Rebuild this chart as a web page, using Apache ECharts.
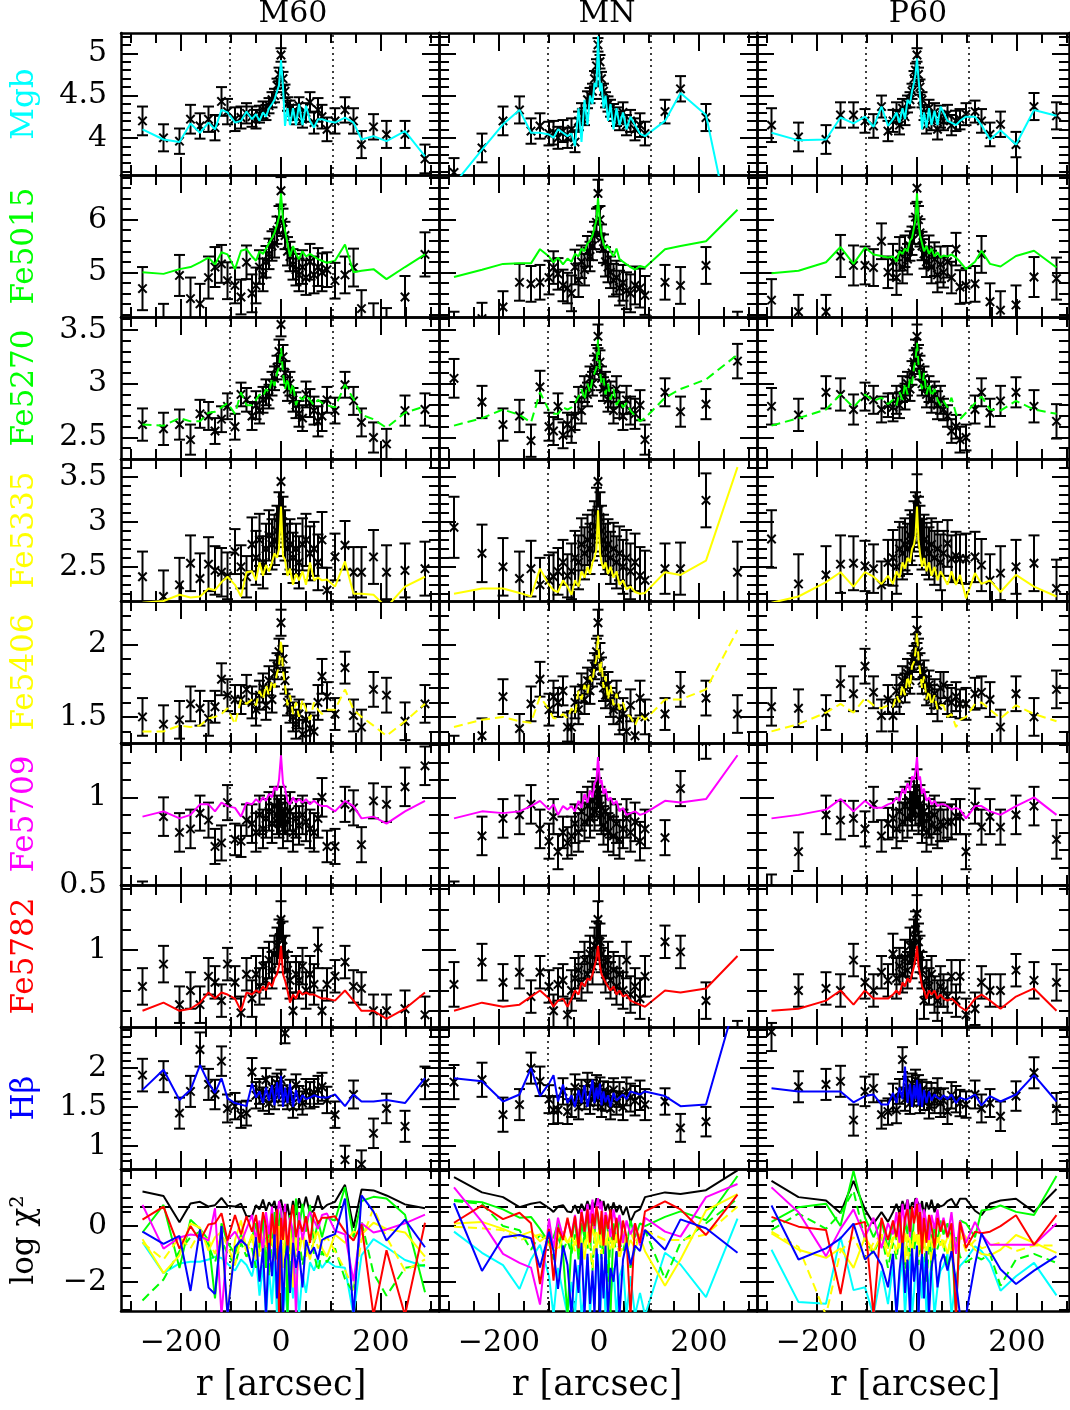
<!DOCTYPE html>
<html><head><meta charset="utf-8">
<script src="https://cdn.jsdelivr.net/npm/echarts@6/dist/echarts.min.js"></script>
<style>html,body{margin:0;padding:0;background:#fff;overflow:hidden}#c{width:1070px;height:1410px}</style>
</head><body><div id="c"></div><script>
// ---------------- DATA ----------------
const colNames = ['M60', 'MN', 'P60'];
const rowLabels = ['Mgb', 'Fe5015', 'Fe5270', 'Fe5335', 'Fe5406', 'Fe5709', 'Fe5782', 'H\u03b2', 'log \u03c7\u00b2'];
const xMajor = [-200, 0, 200];
const xMinor = [-300, -250, -150, -100, -50, 50, 100, 150, 250, 300];
const reLines = [-103, 103];
const chiRef = [0.7];

const mgbTicks = [4, 4.5, 5];
const mgbMinor = [3.6, 3.7, 3.8, 3.9, 4.1, 4.2, 4.3, 4.4, 4.6, 4.7, 4.8, 4.9, 5.1, 5.2];
const fe5015Ticks = [5, 6];
const fe5015Minor = [4.2, 4.4, 4.6, 4.8, 5.2, 5.4, 5.6, 5.8, 6.2, 6.4, 6.6, 6.8];
const fe5270Ticks = [2.5, 3, 3.5];
const fe5270Minor = [2.3, 2.4, 2.6, 2.7, 2.8, 2.9, 3.1, 3.2, 3.3, 3.4, 3.6];
const fe5335Ticks = [2.5, 3, 3.5];
const fe5335Minor = [2.2, 2.3, 2.4, 2.6, 2.7, 2.8, 2.9, 3.1, 3.2, 3.3, 3.4, 3.6, 3.7];
const fe5406Ticks = [1.5, 2];
const fe5406Minor = [1.4, 1.6, 1.7, 1.8, 1.9, 2.1, 2.2, 2.3];
const fe5709Ticks = [0.5, 1];
const fe5709Minor = [0.6, 0.7, 0.8, 0.9, 1.1, 1.2, 1.3];
const fe5782Ticks = [1];
const fe5782Minor = [0.7, 0.8, 0.9, 1.1, 1.2, 1.3];
const hbTicks = [1, 1.5, 2];
const hbMinor = [0.8, 0.9, 1.1, 1.2, 1.3, 1.4, 1.6, 1.7, 1.8, 1.9, 2.1, 2.2, 2.3, 2.4, 2.5];
const chiTicks = [-2, 0];
const chiMinor = [-3, -2.5, -1.5, -1, -0.5, 0.5, 1, 1.5, 2];

// radii [arcsec]
const rM60 = [-277,-235,-203,-181,-162,-145,-132,-119,-107,-92,-80,-69, -58,-50,-43,-36,-30,-24,-18,-13,-8,-4,0,4,8,13,18,24,30,36,43,50,58,66,74,82, 92,108,128,145,161,185,211,248,288];
const rMN = [-290,-234,-192,-159,-136,-118,-100,-91,-82,-72,-63, -55,-48,-41,-35,-29,-23,-18,-13,-9,-5,-2,2,5,9,13,18,23,29,35,41,48,55,63,72,82,92, 132,163,214,277];
const rP60 = [-291,-237,-182,-153,-127,-104,-87,-71,-58, -48,-41,-35,-29,-24,-19,-14,-10,-6,-3,0,3,6,10,14,19,24,29,35,41,47, 53,61,69,78,86,98,116,129,146,167,198,234,279];

// ---- M60 ----
const mgbM60 = [4.20,4.00,3.96,4.22,4.14,4.22,4.12,4.43,4.31,4.22,4.24,4.29, 4.25,4.22,4.28,4.33,4.30,4.38,4.45,4.50,4.62,4.75,4.98,4.70,4.55,4.40,4.35,4.30,4.25,4.38,4.22,4.30,4.42,4.18,4.33,4.25, 4.10,4.20,4.33,4.20,3.92,4.13,4.04,4.04,3.75];
const mgbM60Err = [0.17,0.16,0.15,0.17,0.15,0.15,0.15,0.17,0.15,0.14,0.13,0.12, 0.12,0.11,0.10,0.10,0.09,0.09,0.09,0.08,0.08,0.08,0.08,0.08,0.08,0.08,0.09,0.09,0.09,0.10,0.10,0.11,0.12,0.13,0.14,0.14, 0.14,0.15,0.15,0.15,0.16,0.15,0.16,0.16,0.17];
const mgbM60Mod = [4.10,3.98,3.95,4.17,4.06,4.18,4.10,4.33,4.30,4.18,4.20,4.31, 4.22,4.28,4.20,4.30,4.25,4.35,4.40,4.45,4.55,4.62,4.92,4.60,4.14,4.35,4.15,4.35,4.15,4.40,4.15,4.38,4.20,4.12,4.22,4.22, 4.20,4.18,4.24,4.18,3.98,4.02,3.96,4.08,3.78];

const fe5015M60 = [4.69,4.05,4.94,4.50,4.40,4.90,5.10,5.16,4.84,4.75,4.53,5.19, 4.60,4.75,5.10,4.95,5.20,5.35,5.50,5.55,5.80,6.00,6.55,5.95,5.70,5.40,5.30,5.15,5.05,4.95,5.10,4.90,5.20,4.95,5.10,5.00, 5.05,4.84,4.95,5.09,4.31,4.05,3.95,4.53,5.34];
const fe5015M60Err = [0.41,0.35,0.39,0.40,0.38,0.40,0.38,0.36,0.35,0.34,0.33,0.32, 0.36,0.34,0.32,0.31,0.30,0.29,0.28,0.27,0.26,0.26,0.26,0.26,0.26,0.27,0.28,0.29,0.30,0.31,0.32,0.33,0.34,0.35,0.36,0.36, 0.33,0.34,0.35,0.36,0.35,0.36,0.37,0.40,0.42];
const fe5015M60Mod = [5.00,4.97,5.06,5.10,5.19,5.28,5.15,5.38,5.34,5.06,5.41,5.44, 5.30,5.22,5.40,5.35,5.45,5.55,5.65,5.75,5.90,6.05,6.50,6.00,5.80,5.55,5.30,5.50,5.35,5.25,5.40,5.30,5.35,5.30,5.25,5.22, 5.18,5.22,5.53,5.00,5.03,5.06,4.87,5.10,5.34];

const fe5270M60 = [2.62,2.58,2.62,2.48,2.72,2.70,2.56,2.67,2.79,2.60,2.90,2.85, 2.70,2.80,2.75,2.85,2.92,2.88,3.00,3.05,3.15,3.30,3.55,3.25,3.10,2.95,3.00,2.85,2.80,2.72,2.68,2.90,2.82,2.75,2.65,2.70, 2.85,2.75,2.99,2.84,2.64,2.50,2.44,2.75,2.76];
const fe5270M60Err = [0.15,0.15,0.14,0.14,0.13,0.13,0.12,0.12,0.12,0.12,0.11,0.11, 0.13,0.13,0.12,0.12,0.12,0.11,0.11,0.11,0.11,0.11,0.11,0.11,0.11,0.11,0.11,0.11,0.12,0.12,0.12,0.12,0.13,0.13,0.14,0.14, 0.12,0.12,0.12,0.13,0.13,0.14,0.14,0.14,0.15];
const fe5270M60Mod = [2.62,2.61,2.68,2.65,2.65,2.73,2.74,2.78,2.82,2.72,2.92,2.80, 2.80,2.85,2.90,2.88,2.95,2.92,3.05,2.98,3.10,3.15,3.33,3.10,2.95,3.05,2.90,3.00,2.80,2.88,2.85,2.90,2.85,2.80,2.85,2.82, 2.80,2.78,2.99,2.86,2.71,2.67,2.59,2.73,2.79];

const fe5335M60 = [2.39,2.17,2.30,2.54,2.37,2.53,2.46,2.44,2.40,2.67,2.50,2.39, 2.75,2.60,2.80,2.55,2.70,2.85,2.75,2.80,2.90,3.05,3.45,3.00,2.85,2.70,2.75,2.60,2.70,2.55,2.75,2.80,2.65,2.70,2.55,2.80, 2.24,2.61,2.74,2.44,2.44,2.61,2.44,2.46,2.48];
const fe5335M60Err = [0.28,0.29,0.30,0.31,0.28,0.30,0.27,0.27,0.26,0.25,0.24,0.23, 0.30,0.30,0.29,0.29,0.28,0.28,0.28,0.28,0.28,0.28,0.28,0.28,0.28,0.28,0.28,0.28,0.28,0.29,0.29,0.29,0.30,0.30,0.31,0.31, 0.25,0.26,0.27,0.28,0.28,0.30,0.30,0.30,0.30];
const fe5335M60Mod = [2.10,2.12,2.19,2.16,2.17,2.26,2.24,2.33,2.39,2.30,2.17,2.44, 2.45,2.35,2.55,2.40,2.52,2.45,2.55,2.65,2.60,2.70,3.17,2.62,2.58,2.40,2.48,2.30,2.42,2.35,2.45,2.30,2.55,2.35,2.38,2.35, 2.36,2.28,2.56,2.20,2.20,2.19,2.05,2.28,2.39];

const fe5406M60 = [1.50,1.45,1.48,1.59,1.56,1.49,1.57,1.76,1.65,1.62,1.62,1.69, 1.60,1.55,1.65,1.70,1.58,1.75,1.62,1.80,1.85,1.95,2.15,1.90,1.75,1.60,1.55,1.50,1.45,1.52,1.38,1.48,1.42,1.40,1.60,1.78, 1.64,1.52,1.84,1.51,1.43,1.69,1.65,1.47,1.59];
const fe5406M60Err = [0.13,0.13,0.13,0.12,0.12,0.12,0.11,0.11,0.11,0.10,0.10,0.10, 0.11,0.11,0.10,0.10,0.10,0.10,0.09,0.09,0.09,0.09,0.09,0.09,0.09,0.09,0.09,0.10,0.10,0.10,0.10,0.11,0.11,0.11,0.12,0.12, 0.10,0.11,0.11,0.11,0.12,0.12,0.12,0.13,0.13];
const fe5406M60Mod = [1.40,1.40,1.44,1.43,1.44,1.49,1.50,1.52,1.56,1.45,1.62,1.59, 1.62,1.58,1.68,1.62,1.72,1.65,1.75,1.70,1.80,1.85,2.03,1.82,1.72,1.58,1.65,1.52,1.60,1.50,1.62,1.55,1.48,1.60,1.55,1.52, 1.55,1.55,1.69,1.55,1.50,1.44,1.37,1.47,1.59];

const fe5709M60 = [0.43,0.89,0.80,0.82,0.91,0.87,0.72,0.74,0.97,0.76,0.75,0.87, 0.85,0.80,0.90,0.82,0.88,0.92,0.85,0.95,0.90,0.88,0.95,0.82,0.90,0.86,0.92,0.80,0.88,0.84,0.90,0.86,0.82,0.80,0.88,1.00, 0.72,0.72,0.96,0.94,0.73,0.98,0.96,1.06,1.18];
const fe5709M60Err = [0.09,0.11,0.11,0.11,0.10,0.10,0.10,0.10,0.10,0.09,0.09,0.09, 0.11,0.11,0.11,0.11,0.11,0.11,0.11,0.11,0.11,0.11,0.11,0.11,0.11,0.11,0.11,0.11,0.11,0.11,0.11,0.11,0.11,0.11,0.11,0.11, 0.09,0.10,0.10,0.10,0.10,0.10,0.10,0.11,0.11];
const fe5709M60Mod = [0.89,0.92,0.88,0.90,0.96,0.96,0.92,0.97,0.95,0.94,0.89,0.97, 0.96,0.99,0.97,1.00,0.98,1.02,1.00,1.06,1.04,1.10,1.24,1.08,1.05,0.98,0.96,1.00,0.97,0.99,0.97,0.99,0.96,0.98,0.96,0.95, 0.95,0.92,0.98,0.95,0.88,0.89,0.85,0.92,0.98];

const fe5782M60 = [0.82,0.93,0.73,0.80,0.73,0.87,0.84,0.75,0.93,0.84,0.69,0.88, 0.76,0.88,0.82,0.92,0.85,0.95,0.90,0.98,1.02,1.06,1.15,1.05,0.98,0.90,0.85,0.70,0.88,0.85,0.92,0.80,0.88,0.83,1.01,0.70, 0.83,0.87,0.94,0.82,0.81,0.70,0.70,0.71,0.68];
const fe5782M60Err = [0.09,0.09,0.09,0.09,0.09,0.09,0.08,0.08,0.08,0.08,0.08,0.08, 0.09,0.09,0.09,0.09,0.09,0.09,0.09,0.09,0.09,0.09,0.09,0.09,0.09,0.09,0.09,0.09,0.09,0.09,0.09,0.09,0.09,0.10,0.10,0.10, 0.08,0.08,0.08,0.08,0.08,0.08,0.08,0.09,0.09];
const fe5782M60Mod = [0.70,0.74,0.70,0.71,0.74,0.79,0.76,0.79,0.78,0.76,0.70,0.79, 0.78,0.80,0.79,0.82,0.80,0.84,0.82,0.86,0.88,0.92,1.02,0.88,0.85,0.80,0.74,0.78,0.76,0.80,0.78,0.79,0.78,0.78,0.77,0.76, 0.76,0.75,0.80,0.75,0.70,0.70,0.66,0.71,0.79];

const hbM60 = [1.91,1.89,1.42,1.70,2.24,1.79,1.66,2.09,1.48,1.51,1.40,1.42, 1.95,1.65,1.70,1.60,1.85,1.55,1.75,1.60,1.80,1.70,1.85,1.65,2.45,1.60,1.72,1.50,1.78,1.62,1.55,1.70,1.65,1.68,1.72,1.76, 1.59,1.40,0.82,1.66,0.76,1.16,1.48,1.25,1.81];
const hbM60Err = [0.21,0.20,0.20,0.20,0.22,0.20,0.19,0.19,0.18,0.17,0.17,0.16, 0.18,0.17,0.16,0.15,0.15,0.14,0.14,0.13,0.13,0.13,0.13,0.13,0.13,0.13,0.13,0.14,0.14,0.15,0.15,0.16,0.17,0.18,0.18,0.18, 0.17,0.17,0.18,0.18,0.18,0.19,0.19,0.20,0.21];
const hbM60Mod = [1.72,1.98,1.59,1.72,2.04,1.81,1.68,1.87,1.61,1.55,1.53,1.51, 1.80,1.62,1.70,1.55,1.75,1.58,1.78,1.52,1.82,1.60,1.90,1.50,1.75,1.55,1.80,1.50,1.72,1.55,1.65,1.60,1.62,1.65,1.63,1.62, 1.62,1.66,1.51,1.66,1.57,1.57,1.59,1.55,1.87];

const chiTotM60 = [1.24,1.08,0.14,0.81,0.87,0.70,0.75,1.01,0.73,0.70,0.81,0.35, 0.35,0.75,0.60,0.95,0.55,0.85,0.70,0.90,0.40,0.80,0.95,0.60,0.30,0.80,0.20,0.90,0.40,1.00,0.55,1.05,0.45,0.58,1.10,0.60, 0.76,0.87,1.48,-0.06,1.31,1.28,1.10,0.78,0.64];
const chiMgbM60 = [-0.58,-1.69,-1.34,-1.28,-1.28,-1.20,-1.10,-1.15,-1.35,-1.60,-1.20,-1.40, -1.80,-1.10,-2.50,-1.40,-3.20,-1.60,-2.80,-1.20,-3.20,-2.00,-1.50,-3.20,-2.20,-3.20,-1.30,-2.60,-1.50,-3.20,-1.70,-2.40,-1.30,-1.60,-1.20,-1.50, -1.25,-1.45,-1.50,-3.20,-1.05,-0.47,-0.76,-1.22,-1.45];
const chiFe5015M60 = [-0.23,0.76,-1.51,0.23,-0.10,-0.50,-2.60,0.10,-0.60,-1.00,-0.30,-0.80, -0.40,0.10,-0.90,0.30,-1.50,0.00,-0.70,0.50,-1.20,0.20,0.60,-0.50,0.30,-3.20,0.40,-0.80,0.99,-0.10,0.80,-0.20,0.76,-0.60,0.20,-0.40, 0.30,0.20,1.40,-0.40,0.90,1.05,0.99,0.41,-2.38];
const chiFe5270M60 = [-2.67,-1.92,-0.90,-0.40,-0.20,-0.70,-1.30,-0.50,-1.00,-1.40,-0.60,-1.10, -0.80,-1.50,-0.40,-1.00,-0.20,-1.80,-0.50,-0.90,-0.30,-1.20,-0.60,-0.20,-1.00,-0.50,-1.60,-0.70,-1.10,-0.40,-1.40,-0.80,-0.30,-1.00,-1.60,-0.90, -1.30,-0.80,-1.90,-2.40,0.17,-1.70,-2.50,-1.50,-1.40];
const chiFe5335M60 = [-0.47,-1.69,-1.05,0.10,-0.06,-0.88,-0.40,-0.20,-3.20,-0.50,0.20,-0.90, -0.30,-1.20,0.00,-0.60,-0.20,-1.00,0.10,-0.40,-0.80,0.00,-0.50,-1.50,-0.20,-0.70,0.00,-2.20,-0.40,-1.00,-0.30,-0.60,-1.20,-0.50,-0.20,-0.80, -1.10,-0.30,-0.60,-0.20,-0.30,0.12,-0.10,-0.23,-1.10];
const chiFe5406M60 = [-0.60,-1.20,-0.40,-0.80,-0.20,-0.50,-1.00,-0.30,-0.70,-1.40,-0.40,-0.90, -0.60,-0.20,-1.10,-0.40,-0.80,-0.10,-0.50,-1.30,-0.30,-0.70,-0.40,-0.90,-0.20,-0.60,-1.00,-0.40,-2.40,-0.70,-0.30,-1.10,-0.50,-0.20,-0.80,-0.60, -0.40,-0.90,-1.57,-2.30,-0.50,0.64,-0.40,-1.60,-1.20];
const chiFe5709M60 = [0.76,-0.81,-0.41,-0.30,-0.35,-0.52,0.64,-3.20,-0.50,-0.20,-0.60,-0.10, 0.40,-0.50,0.20,-1.00,0.50,-0.30,0.70,-0.60,0.10,0.90,0.60,-0.40,0.80,-1.20,0.30,-0.20,-3.20,0.50,-0.50,0.10,0.52,0.20,-0.10,0.40, 0.45,-0.17,-0.30,-1.98,0.10,-0.23,-0.12,0.10,0.41];
const chiFe5782M60 = [0.23,0.70,-0.81,0.00,-0.52,0.06,0.10,0.46,-0.52,0.40,-0.30,0.35, -0.20,0.40,-0.60,0.50,0.00,-1.20,0.45,-0.40,0.60,-3.20,0.30,-0.50,0.50,-0.80,0.10,0.76,-0.40,0.20,-0.20,0.35,-0.60,0.50,0.10,0.30, 0.30,0.35,-0.20,-0.52,0.06,-3.20,-0.87,-3.20,0.12];
const chiHbM60 = [-0.20,-0.64,-0.35,-2.33,-0.12,-2.21,-2.44,0.00,-3.20,-0.76,-0.50,-0.70, -1.50,-0.40,-2.00,-0.80,-3.20,-0.60,-1.80,-0.30,-2.60,-1.00,-0.50,-3.20,-1.20,-0.70,-2.40,-0.60,-1.50,-0.90,-2.20,-0.50,-1.00,-0.76,-1.20,-0.50, -0.40,-0.29,0.99,-3.20,1.10,0.52,-0.52,0.23,-0.76];

// ---- MN ----
const mgbMN = [3.59,3.88,4.20,4.33,4.08,4.14,4.05,4.06,4.00,4.08,4.00, 4.10,3.95,4.20,4.30,4.25,4.45,4.50,4.55,4.70,4.85,5.10,4.90,4.70,4.55,4.45,4.40,4.35,4.30,4.25,4.20,4.30,4.15,4.20,4.10,4.15,4.05, 4.31,4.58,4.24,3.30];
const mgbMNErr = [0.17,0.17,0.17,0.16,0.15,0.15,0.14,0.14,0.13,0.13,0.12, 0.13,0.12,0.11,0.11,0.10,0.10,0.09,0.09,0.09,0.08,0.08,0.08,0.08,0.09,0.09,0.09,0.10,0.10,0.11,0.11,0.12,0.12,0.13,0.13,0.14,0.14, 0.14,0.15,0.16,0.18];
const mgbMNMod = [3.45,3.86,4.16,4.33,4.06,4.06,4.04,4.00,4.10,4.06,4.02, 4.05,3.90,4.35,3.95,4.45,4.15,4.50,4.40,4.65,4.60,5.20,4.55,4.65,4.35,4.50,4.20,4.40,4.10,4.35,4.15,4.30,4.10,4.25,4.15,4.05,4.02, 4.20,4.53,4.27,2.50];

const fe5015MN = [3.90,4.12,4.34,4.81,4.78,4.81,4.90,5.09,4.97,4.75,4.70, 4.60,5.10,4.85,5.20,5.05,5.40,5.30,5.50,5.70,5.95,6.50,6.00,5.65,5.45,5.20,5.10,5.00,4.85,4.90,4.70,4.80,4.65,4.60,4.75,4.70,4.56, 4.81,4.75,5.13,3.95];
const fe5015MNErr = [0.35,0.30,0.30,0.35,0.34,0.33,0.32,0.31,0.30,0.30,0.29, 0.34,0.33,0.32,0.31,0.30,0.29,0.28,0.27,0.26,0.26,0.26,0.26,0.26,0.27,0.28,0.29,0.30,0.31,0.32,0.33,0.34,0.35,0.36,0.36,0.37,0.37, 0.33,0.35,0.35,0.30];
const fe5015MNMod = [4.91,5.05,5.16,5.17,5.17,5.44,5.30,5.19,5.28,5.15,5.26, 5.20,5.35,5.30,5.45,5.40,5.55,5.60,5.70,5.85,6.00,6.41,5.95,5.70,5.55,5.45,5.50,5.40,5.30,5.45,5.25,5.20,5.15,5.10,5.05,5.12,5.09, 5.44,5.50,5.59,6.19];

const fe5270MN = [3.05,2.83,2.62,2.70,2.47,2.97,2.60,2.56,2.79,2.52,2.62, 2.58,2.70,2.85,2.75,2.95,2.90,3.05,3.00,3.15,3.25,3.44,3.20,3.05,2.95,3.00,2.85,2.90,2.75,2.95,2.80,2.70,2.85,2.75,2.72,2.80,2.48, 2.92,2.74,2.81,3.21];
const fe5270MNErr = [0.18,0.15,0.15,0.15,0.15,0.15,0.13,0.13,0.12,0.12,0.11, 0.13,0.13,0.12,0.12,0.12,0.11,0.11,0.11,0.11,0.11,0.11,0.11,0.11,0.11,0.11,0.11,0.12,0.12,0.12,0.12,0.13,0.13,0.13,0.14,0.14,0.14, 0.13,0.14,0.14,0.16];
const fe5270MNMod = [2.61,2.68,2.76,2.71,2.64,2.92,2.75,2.72,2.72,2.78,2.76, 2.78,2.82,2.88,2.95,2.85,3.00,2.92,3.05,3.10,3.15,3.41,3.12,3.00,3.05,2.90,3.00,2.85,2.95,2.80,2.85,2.78,2.82,2.75,2.70,2.65,2.68, 2.87,2.95,3.04,3.27];

const fe5335MN = [2.94,2.65,2.50,2.37,2.48,2.30,2.35,2.39,2.45,2.55,2.40, 2.45,2.60,2.55,2.75,2.65,2.80,2.70,2.85,2.95,3.10,3.45,3.05,2.90,2.80,2.70,2.75,2.60,2.70,2.55,2.65,2.50,2.60,2.45,2.55,2.40,2.35, 2.48,2.48,3.24,2.44];
const fe5335MNErr = [0.34,0.32,0.32,0.30,0.31,0.30,0.28,0.27,0.26,0.25,0.24, 0.31,0.30,0.30,0.29,0.29,0.28,0.28,0.28,0.28,0.28,0.28,0.28,0.28,0.28,0.28,0.28,0.29,0.29,0.29,0.30,0.30,0.31,0.31,0.32,0.32,0.33, 0.28,0.29,0.30,0.34];
const fe5335MNMod = [2.20,2.26,2.26,2.21,2.17,2.48,2.30,2.24,2.22,2.35,2.28, 2.19,2.35,2.28,2.45,2.38,2.50,2.42,2.55,2.60,2.70,3.13,2.65,2.55,2.48,2.55,2.42,2.50,2.38,2.45,2.30,2.35,2.25,2.28,2.22,2.20,2.21, 2.44,2.41,2.57,3.61];

const fe5406MN = [1.25,1.37,1.64,1.42,1.59,1.76,1.55,1.64,1.60,1.68,1.43, 1.43,1.60,1.55,1.70,1.62,1.75,1.68,1.80,1.85,1.95,2.15,1.92,1.82,1.70,1.65,1.72,1.60,1.55,1.65,1.48,1.52,1.40,1.58,1.37,1.63,1.50, 1.52,1.69,1.63,1.52];
const fe5406MNErr = [0.12,0.12,0.12,0.10,0.12,0.12,0.11,0.11,0.10,0.10,0.10, 0.11,0.11,0.10,0.10,0.10,0.09,0.09,0.09,0.09,0.09,0.09,0.09,0.09,0.09,0.09,0.09,0.10,0.10,0.10,0.10,0.11,0.11,0.11,0.12,0.12,0.12, 0.11,0.12,0.12,0.13];
const fe5406MNMod = [1.43,1.48,1.50,1.47,1.46,1.64,1.55,1.49,1.49,1.52,1.49, 1.56,1.52,1.68,1.62,1.72,1.66,1.78,1.74,1.85,1.90,2.06,1.80,1.88,1.70,1.78,1.62,1.72,1.58,1.66,1.55,1.60,1.52,1.50,1.44,1.52,1.48, 1.62,1.62,1.69,2.10];

const fe5709MN = [0.42,0.78,0.88,0.90,0.96,0.82,0.75,0.89,0.69,0.80,0.74, 0.78,0.85,0.80,0.92,0.86,0.95,0.88,0.98,0.92,1.00,1.05,0.95,0.90,0.84,0.92,0.80,0.88,0.78,0.85,0.76,0.82,0.88,0.80,0.86,0.75,0.82, 0.77,1.05,1.32,1.42];
const fe5709MNErr = [0.10,0.11,0.11,0.11,0.11,0.11,0.10,0.10,0.10,0.09,0.09, 0.11,0.11,0.11,0.11,0.11,0.11,0.11,0.11,0.11,0.11,0.11,0.11,0.11,0.11,0.11,0.11,0.11,0.11,0.11,0.11,0.11,0.11,0.11,0.11,0.11,0.11, 0.10,0.10,0.10,0.11];
const fe5709MNMod = [0.88,0.92,0.91,0.92,0.95,0.98,0.93,0.96,0.90,0.95,0.93, 0.95,0.92,0.98,0.94,1.02,0.97,1.04,1.00,1.08,1.10,1.23,1.08,1.10,1.02,1.05,0.98,1.00,0.96,0.98,0.92,0.94,0.90,0.91,0.92,0.90,0.91, 0.98,0.97,0.99,1.24];

const fe5782MN = [0.83,0.94,0.84,0.89,0.77,0.89,0.82,0.70,0.83,0.85,0.68, 0.80,0.86,0.90,0.84,0.95,0.88,0.98,0.92,1.02,1.05,1.15,1.04,0.98,0.92,0.88,0.95,0.85,0.90,0.82,0.88,0.80,0.95,0.78,0.82,0.76,0.87, 1.04,0.99,0.75,0.55];
const fe5782MNErr = [0.11,0.09,0.09,0.08,0.08,0.08,0.08,0.08,0.08,0.08,0.08, 0.10,0.10,0.09,0.09,0.09,0.09,0.09,0.09,0.09,0.09,0.09,0.09,0.09,0.09,0.09,0.09,0.09,0.09,0.09,0.09,0.09,0.09,0.09,0.09,0.10,0.10, 0.08,0.08,0.09,0.10];
const fe5782MNMod = [0.70,0.74,0.72,0.73,0.77,0.80,0.76,0.72,0.75,0.76,0.72, 0.76,0.80,0.78,0.84,0.82,0.86,0.85,0.88,0.92,0.96,1.02,0.92,0.88,0.86,0.84,0.82,0.80,0.82,0.78,0.80,0.77,0.78,0.75,0.74,0.73,0.72, 0.80,0.79,0.81,0.97];

const hbMN = [1.82,1.85,1.40,1.53,2.00,1.83,1.60,1.46,1.46,1.70,1.44, 1.55,1.75,1.50,1.70,1.62,1.80,1.55,1.72,1.65,1.78,1.60,1.75,1.50,1.70,1.58,1.68,1.48,1.72,1.55,1.66,1.50,1.70,1.62,1.58,1.65,1.53, 1.57,1.23,1.31,2.75];
const hbMNErr = [0.22,0.22,0.22,0.20,0.20,0.19,0.18,0.18,0.17,0.17,0.16, 0.18,0.17,0.16,0.15,0.15,0.14,0.14,0.13,0.13,0.13,0.13,0.13,0.13,0.13,0.13,0.14,0.14,0.15,0.15,0.16,0.17,0.18,0.18,0.19,0.19,0.20, 0.17,0.18,0.19,0.22];
const hbMNMod = [1.87,1.83,1.57,1.66,2.00,1.64,1.80,1.91,1.57,1.79,1.55, 1.65,1.50,1.72,1.55,1.78,1.50,1.68,1.85,1.55,1.75,1.60,1.80,1.52,1.70,1.56,1.65,1.50,1.68,1.58,1.62,1.66,1.60,1.70,1.68,1.66,1.70, 1.64,1.51,1.53,2.95];

const chiTotMN = [1.76,1.21,1.04,0.68,0.80,0.86,0.65,0.51,0.70,0.75,0.52, 0.50,0.75,0.45,0.80,0.55,0.90,0.60,0.85,0.70,1.00,0.80,0.95,0.65,0.90,0.55,0.80,0.45,0.85,0.50,0.75,0.40,0.70,0.15,0.50,0.60,1.04, 1.21,1.15,1.29,2.00];
const chiMgbMN = [-0.20,-0.96,-1.40,-2.26,-1.20,-0.67,-1.80,-3.20,-1.50,-2.40,-3.20, -2.00,-3.20,-1.40,-3.20,-2.50,-1.10,-3.20,-1.80,-2.80,-1.30,-1.00,-3.20,-2.20,-1.60,-3.20,-1.20,-2.60,-1.50,-3.20,-1.80,-1.40,-3.20,-1.80,-3.20,-2.40,-3.20, -0.96,-1.38,-2.55,0.27];
const chiFe5015MN = [0.94,0.86,0.60,0.30,0.33,-0.10,-0.60,-0.40,0.10,-1.00,-3.20, -0.60,0.30,-1.20,0.10,-0.40,0.50,-0.80,0.20,-0.30,0.60,0.40,-0.50,0.20,-1.00,0.30,-0.20,-3.20,0.10,-0.60,0.30,-0.30,-0.80,0.20,-0.40,0.10,0.00, 0.33,0.53,0.21,1.80];
const chiFe5270MN = [0.90,0.80,0.00,-0.15,-0.85,-0.30,-0.60,-1.20,-0.40,-0.90,-0.50, -1.00,-0.30,-0.70,-1.40,-0.20,-0.80,-0.50,-1.60,-0.40,-0.90,-0.30,-0.60,-1.20,-0.40,-0.80,-2.00,-0.50,-0.30,-1.10,-0.60,-0.90,-0.40,-1.50,-0.80,-0.30,-0.15, -1.90,-0.60,0.10,0.98];
const chiFe5335MN = [0.09,0.15,-0.10,-0.35,-0.20,-0.55,-0.30,-0.80,-0.40,-0.20,-0.60, -0.30,-0.70,-0.10,-0.50,-1.20,-0.20,-0.60,0.00,-0.40,-0.90,-0.30,-0.10,-0.70,-0.40,-1.00,-0.20,-0.50,-0.80,-0.30,-0.60,-0.20,-0.90,-0.50,-0.80,-0.40,-0.90, -2.14,-1.20,0.56,1.15];
const chiFe5406MN = [-0.02,-0.08,-0.15,-0.50,-0.40,-0.30,-0.70,-0.50,-0.90,-0.40,-0.60, -0.50,-0.90,-0.30,-1.10,-0.60,-0.40,-0.80,-1.50,-0.50,-0.20,-0.40,-0.70,-1.00,-0.30,-0.60,-0.40,-0.90,-0.50,-0.30,-1.20,-0.60,-0.40,-0.20,-0.60,-0.30,-0.15, -0.50,-0.50,-0.30,0.70];
const chiFe5709MN = [1.39,0.15,-1.00,-1.32,-1.49,-2.82,0.27,-0.80,0.30,-0.40,0.20, -0.30,0.40,-0.60,0.60,-0.20,0.80,0.10,0.95,-0.10,0.70,1.00,0.60,0.90,-0.20,0.50,0.20,-0.40,0.60,0.00,0.40,-0.60,0.20,-0.30,0.10,-0.70,0.30, -0.20,-0.38,1.04,1.51];
const chiFe5782MN = [0.12,0.74,0.25,0.48,0.10,-2.08,-0.10,-1.96,-0.05,-0.50,0.30, -0.40,0.35,-0.80,0.50,-0.20,0.60,-0.60,0.45,0.00,0.70,0.40,-0.30,0.55,-0.70,0.40,-0.10,0.60,-0.50,0.30,-0.90,0.20,-0.40,-3.20,0.10,-0.60,0.53, 0.89,0.60,-0.32,1.13];
const chiHbMN = [0.82,-1.61,-0.40,-0.32,-0.44,-1.49,-0.20,-0.90,-2.26,-0.70,-1.40, -3.20,-1.20,-2.40,-0.60,-3.20,-1.00,-2.80,-1.60,-3.20,-0.80,-1.40,-3.20,-1.00,-2.60,-0.70,-3.20,-1.50,-2.00,-0.90,-3.20,-1.20,-0.60,-1.40,-0.70,-0.90,-0.14, -0.85,0.24,-0.08,-0.96];

// ---- P60 ----
const mgbP60 = [4.15,4.01,3.98,4.27,4.27,4.20,4.14,4.37,4.08, 4.20,4.30,4.15,4.35,4.25,4.40,4.45,4.55,4.70,4.80,4.98,4.75,4.60,4.45,4.30,4.15,4.35,4.20,4.30,4.10,4.25, 4.20,4.28,4.15,4.20,4.22,4.28,4.31,4.20,4.04,4.16,3.92,4.37,4.26];
const mgbP60Err = [0.20,0.17,0.17,0.15,0.15,0.14,0.14,0.13,0.12, 0.13,0.12,0.11,0.11,0.10,0.10,0.09,0.09,0.09,0.08,0.08,0.08,0.09,0.09,0.09,0.10,0.10,0.11,0.11,0.12,0.13, 0.11,0.11,0.12,0.12,0.12,0.13,0.13,0.14,0.14,0.15,0.15,0.16,0.16];
const mgbP60Mod = [4.06,3.97,3.98,4.24,4.17,4.25,4.13,4.37,4.14, 4.22,4.30,4.18,4.35,4.22,4.45,4.40,4.55,4.65,4.75,4.94,4.70,4.50,4.10,4.30,4.12,4.35,4.15,4.32,4.15,4.37, 4.30,4.20,4.18,4.15,4.20,4.25,4.25,4.15,3.98,4.09,3.92,4.33,4.26];

const fe5015P60 = [4.47,4.25,4.25,5.31,5.13,5.13,5.09,5.59,5.00, 5.20,4.90,5.35,5.10,5.40,5.25,5.50,5.60,5.80,6.05,6.60,6.00,5.75,5.50,5.35,5.20,5.40,5.10,5.25,4.95,5.15, 5.00,5.20,4.90,5.44,4.72,4.75,4.78,5.34,4.44,4.28,4.38,4.91,4.88];
const fe5015P60Err = [0.40,0.32,0.32,0.40,0.38,0.36,0.35,0.34,0.30, 0.34,0.33,0.32,0.31,0.30,0.29,0.28,0.27,0.26,0.26,0.26,0.26,0.26,0.27,0.28,0.29,0.30,0.31,0.32,0.33,0.34, 0.29,0.30,0.30,0.31,0.32,0.33,0.34,0.35,0.35,0.36,0.37,0.38,0.40];
const fe5015P60Mod = [4.98,5.03,5.19,5.48,5.16,5.47,5.34,5.31,5.28, 5.30,5.20,5.40,5.35,5.45,5.40,5.60,5.65,5.85,6.00,6.50,5.95,5.70,5.55,5.40,5.50,5.35,5.45,5.30,5.38,5.28, 5.32,5.30,5.34,5.28,5.20,5.06,5.20,5.41,5.16,5.11,5.31,5.41,5.09];

const fe5270P60 = [2.79,2.71,2.92,2.90,2.76,2.88,2.85,2.76,2.80, 2.78,2.85,2.80,2.95,2.88,3.00,2.95,3.10,3.20,3.30,3.44,3.25,3.15,3.00,3.05,2.90,2.95,2.85,2.90,2.80,2.85, 2.76,2.70,2.56,2.60,2.48,2.50,2.76,2.92,2.73,2.84,2.92,2.79,2.65];
const fe5270P60Err = [0.17,0.15,0.15,0.15,0.14,0.13,0.13,0.12,0.11, 0.13,0.13,0.12,0.12,0.12,0.11,0.11,0.11,0.11,0.11,0.11,0.11,0.11,0.11,0.11,0.12,0.12,0.12,0.12,0.13,0.13, 0.10,0.10,0.11,0.11,0.12,0.12,0.13,0.13,0.13,0.14,0.14,0.15,0.16];
const fe5270P60Mod = [2.61,2.68,2.76,2.90,2.78,2.90,2.84,2.87,2.81, 2.85,2.80,2.92,2.85,3.00,2.90,3.05,3.00,3.15,3.22,3.38,3.18,3.05,2.95,3.10,2.90,3.00,2.88,2.95,2.85,2.80, 2.84,2.78,2.87,2.72,2.67,2.73,2.82,2.88,2.76,2.75,2.84,2.76,2.72];

const fe5335P60 = [2.81,2.31,2.41,2.53,2.54,2.51,2.48,2.30,2.55, 2.60,2.50,2.70,2.65,2.75,2.70,2.85,2.80,2.95,3.05,3.25,3.00,2.90,2.75,2.80,2.70,2.65,2.75,2.60,2.70,2.55, 2.65,2.76,2.59,2.62,2.59,2.59,2.61,2.52,2.35,2.43,2.50,2.54,2.26];
const fe5335P60Err = [0.32,0.33,0.32,0.32,0.30,0.28,0.27,0.26,0.25, 0.31,0.30,0.30,0.29,0.29,0.28,0.28,0.28,0.28,0.28,0.28,0.28,0.28,0.28,0.28,0.29,0.29,0.29,0.30,0.30,0.31, 0.25,0.26,0.26,0.27,0.27,0.28,0.28,0.29,0.29,0.30,0.30,0.31,0.32];
const fe5335P60Mod = [2.10,2.17,2.33,2.44,2.28,2.44,2.39,2.31,2.40, 2.31,2.45,2.38,2.55,2.48,2.60,2.55,2.70,2.75,2.85,3.17,2.80,2.65,2.50,2.60,2.45,2.55,2.40,2.50,2.35,2.45, 2.39,2.30,2.45,2.30,2.41,2.15,2.43,2.31,2.35,2.22,2.41,2.28,2.17];

const fe5406P60 = [1.57,1.56,1.53,1.73,1.66,1.85,1.67,1.51,1.62, 1.51,1.68,1.62,1.75,1.70,1.80,1.75,1.85,1.90,1.98,2.10,1.95,1.85,1.75,1.80,1.68,1.72,1.62,1.66,1.58,1.70, 1.72,1.62,1.60,1.64,1.59,1.59,1.66,1.67,1.62,1.43,1.66,1.50,1.69];
const fe5406P60Err = [0.13,0.13,0.12,0.12,0.12,0.12,0.11,0.11,0.10, 0.11,0.11,0.10,0.10,0.10,0.10,0.09,0.09,0.09,0.09,0.09,0.09,0.09,0.09,0.09,0.10,0.10,0.10,0.10,0.11,0.11, 0.09,0.10,0.10,0.10,0.10,0.11,0.11,0.11,0.12,0.12,0.12,0.13,0.13];
const fe5406P60Mod = [1.40,1.45,1.53,1.59,1.53,1.63,1.58,1.56,1.58, 1.57,1.65,1.60,1.72,1.65,1.78,1.70,1.85,1.88,1.95,2.08,1.90,1.82,1.70,1.78,1.62,1.68,1.58,1.65,1.55,1.58, 1.58,1.50,1.52,1.43,1.48,1.50,1.59,1.60,1.55,1.49,1.58,1.52,1.47];

const fe5709P60 = [0.46,0.69,0.90,0.87,0.88,0.82,0.96,0.78,0.85, 0.88,0.82,0.92,0.86,0.95,0.88,0.98,0.92,1.00,0.95,1.05,0.90,0.96,0.85,0.92,0.80,0.88,0.84,0.90,0.82,0.86, 0.84,0.86,0.86,0.89,0.89,0.69,0.95,0.83,0.89,0.83,0.90,0.95,0.76];
const fe5709P60Err = [0.10,0.11,0.11,0.11,0.10,0.10,0.10,0.09,0.09, 0.11,0.11,0.11,0.11,0.11,0.11,0.11,0.11,0.11,0.11,0.11,0.11,0.11,0.11,0.11,0.11,0.11,0.11,0.11,0.11,0.11, 0.09,0.09,0.10,0.10,0.10,0.10,0.10,0.10,0.10,0.10,0.11,0.11,0.11];
const fe5709P60Mod = [0.88,0.90,0.93,0.99,0.92,0.98,0.94,0.94,0.96, 0.97,1.00,0.98,1.05,1.02,1.08,1.04,1.12,1.10,1.15,1.23,1.10,1.12,1.02,1.05,0.98,1.00,0.96,0.98,0.95,0.96, 0.96,0.95,0.93,0.94,0.93,0.88,0.95,0.95,0.92,0.90,0.95,1.00,0.90];

const fe5782P60 = [0.55,0.80,0.81,0.80,0.95,0.84,0.80,0.89,0.85, 0.98,0.86,0.92,0.88,0.96,0.90,1.02,0.95,1.06,1.10,1.18,1.04,0.98,0.90,0.75,0.86,0.82,0.88,0.78,0.75,0.82, 0.80,0.77,0.87,0.75,0.87,0.68,0.71,0.84,0.80,0.80,0.90,0.85,0.84];
const fe5782P60Err = [0.09,0.08,0.08,0.08,0.08,0.08,0.08,0.08,0.08, 0.10,0.10,0.09,0.09,0.09,0.09,0.09,0.09,0.09,0.09,0.09,0.09,0.09,0.09,0.09,0.09,0.09,0.09,0.09,0.10,0.10, 0.08,0.08,0.08,0.08,0.08,0.08,0.08,0.08,0.08,0.08,0.08,0.09,0.09];
const fe5782P60Mod = [0.70,0.71,0.75,0.80,0.73,0.80,0.76,0.76,0.76, 0.78,0.80,0.78,0.84,0.82,0.86,0.84,0.88,0.92,0.96,1.02,0.92,0.88,0.82,0.80,0.76,0.80,0.78,0.80,0.76,0.78, 0.76,0.75,0.76,0.74,0.72,0.70,0.76,0.78,0.75,0.71,0.77,0.81,0.70];

const hbP60 = [2.47,1.76,1.79,1.83,1.33,1.70,1.74,1.40,1.44, 1.62,1.46,1.70,2.11,1.60,1.75,1.55,1.80,1.65,1.85,1.70,1.78,1.55,1.72,1.60,1.68,1.50,1.65,1.58,1.70,1.55, 1.58,1.44,1.65,1.60,1.55,1.53,1.66,1.48,1.55,1.38,1.64,1.94,1.48];
const hbP60Err = [0.25,0.20,0.20,0.20,0.20,0.19,0.18,0.18,0.17, 0.18,0.17,0.16,0.16,0.15,0.14,0.14,0.13,0.13,0.13,0.13,0.13,0.13,0.13,0.14,0.14,0.15,0.16,0.16,0.17,0.18, 0.16,0.16,0.17,0.17,0.17,0.17,0.18,0.18,0.18,0.19,0.19,0.20,0.20];
const hbP60Mod = [1.74,1.70,1.70,1.70,1.56,1.64,1.66,1.53,1.53, 1.68,1.55,1.75,1.60,2.02,1.55,1.80,1.50,1.78,1.60,1.85,1.52,1.80,1.50,1.72,1.55,1.70,1.58,1.66,1.62,1.60, 1.65,1.60,1.66,1.55,1.62,1.59,1.66,1.52,1.64,1.57,1.66,1.91,1.57];

const chiTotP60 = [1.62,1.04,0.92,0.47,1.62,0.60,0.09,0.50,0.15, 0.50,0.80,0.45,0.90,0.60,0.95,0.50,0.85,0.75,1.00,0.95,0.80,0.55,0.90,0.40,0.85,0.60,0.95,0.50,0.80,0.70, 0.75,0.90,0.98,0.70,0.98,0.98,0.55,0.39,0.80,0.92,0.98,0.51,1.33];
const chiMgbP60 = [-0.85,-2.73,-2.79,-0.38,-2.30,-2.20,-3.20,-1.60,-2.80, -1.40,-3.20,-2.00,-1.20,-3.20,-1.80,-1.00,-3.20,-2.40,-1.50,-0.90,-3.20,-1.70,-2.60,-1.10,-3.20,-1.90,-1.40,-3.20,-2.20,-1.60, -1.43,-1.00,-3.20,-1.80,-1.43,-1.20,-0.73,-0.90,-1.30,-2.32,-1.80,-1.32,-2.49];
const chiFe5015P60 = [0.15,0.68,0.80,0.00,1.98,0.30,-0.40,0.20,-0.80, 0.10,-0.50,0.40,-1.20,0.20,-0.30,0.60,-0.80,0.30,0.50,0.70,-0.20,0.40,-0.90,0.20,-0.40,0.30,-1.60,0.10,-0.60,0.20, -0.30,0.10,-0.50,-3.20,0.20,0.10,-0.40,0.56,0.60,0.74,0.51,0.40,1.80];
const chiFe5270P60 = [-0.14,0.45,-0.10,0.45,1.27,-0.50,-1.00,-0.30,-1.50, -0.60,-1.20,-0.30,-0.80,-1.80,-0.40,-1.10,-0.20,-0.90,-0.50,-0.30,-1.40,-0.60,-1.00,-0.40,-2.00,-0.70,-0.30,-1.20,-0.80,-0.50, -0.60,-1.50,-0.90,-0.40,-1.10,-1.30,-1.08,-1.20,-1.00,-2.14,-1.20,-1.00,-1.32];
const chiFe5335P60 = [-0.26,-0.85,-1.14,-0.80,-1.50,-0.40,-0.90,-0.30,-1.10, -0.50,-0.20,-0.80,-0.40,-1.30,-0.30,-0.60,-1.00,-0.20,-0.50,-0.30,-0.70,-0.10,-0.90,-0.40,-1.20,-0.30,-0.60,-0.90,-0.40,-0.70, -0.50,-1.00,-0.30,-0.90,-0.10,-0.40,-0.85,-1.00,-1.05,-0.85,-0.32,-0.60,-0.96];
const chiFe5406P60 = [-0.20,-0.75,-3.20,-0.90,-0.40,-1.20,-0.60,-0.30,-0.80, -0.40,-1.00,-0.30,-0.70,-0.20,-1.50,-0.50,-0.80,-0.30,-0.60,-0.40,-1.10,-0.30,-0.70,-0.20,-0.90,-0.50,-1.30,-0.40,-0.60,-0.30, -0.80,-0.40,-1.00,-0.60,-0.30,-0.90,-0.50,-0.80,-0.70,-0.60,-0.90,-0.70,-0.70];
const chiFe5709P60 = [1.39,0.50,-1.08,-0.10,0.60,-0.40,0.30,-0.80,0.10, -0.30,0.50,-0.60,0.80,0.00,0.95,-0.40,0.60,0.20,0.90,1.00,0.50,0.80,-0.20,0.60,0.10,-0.50,0.40,-0.10,0.60,-0.20, 0.30,-0.40,0.50,-1.00,0.20,-0.60,0.15,-0.30,-0.67,-0.67,-0.67,-0.67,0.09];
const chiFe5782P60 = [0.33,-0.02,-0.14,-2.44,0.05,0.15,-3.20,0.30,-0.50, 0.20,-0.40,0.50,-0.80,0.30,0.60,-0.20,0.70,0.10,0.40,0.80,-0.30,0.50,-1.00,0.30,-0.60,0.40,0.00,-0.80,0.30,-0.20, 0.20,-0.40,0.10,-3.20,0.15,-0.79,-0.20,-0.26,-0.20,0.00,0.39,-0.67,0.39];
const chiHbP60 = [0.74,-1.20,-0.80,-0.44,0.09,-1.20,-0.90,-1.40,-2.20, -1.00,-3.20,-1.60,-0.60,-2.40,-1.20,-3.20,-0.80,-2.00,-1.40,-0.70,-3.20,-1.80,-1.00,-2.60,-0.90,-3.20,-1.50,-0.80,-2.20,-1.30, -1.00,-1.60,-0.90,-2.00,-3.20,-3.20,-1.38,-0.26,-0.90,-1.55,-2.08,-1.60,-1.08];

// ---------------- LAYOUT / STYLE ----------------
const FONT = 'DejaVu Serif';
const colLeft = [121, 439, 757];
const colWidth = [318, 318, 312];
const xRange = [[-320, 316], [-320, 316], [-320, 304]];
const rowTop0 = 33, rowH = 142;
const radii = [rM60, rMN, rP60];

const PANELS = [
  {color:'#00ffff', dash:false, y:[3.56,5.24], major:mgbTicks, minor:mgbMinor,
   sets:[[mgbM60,mgbM60Err,mgbM60Mod],[mgbMN,mgbMNErr,mgbMNMod],[mgbP60,mgbP60Err,mgbP60Mod]]},
  {color:'#00ff00', dash:false, y:[4.15,6.85], major:fe5015Ticks, minor:fe5015Minor,
   sets:[[fe5015M60,fe5015M60Err,fe5015M60Mod],[fe5015MN,fe5015MNErr,fe5015MNMod],[fe5015P60,fe5015P60Err,fe5015P60Mod]]},
  {color:'#00ff00', dash:true, y:[2.30,3.62], major:fe5270Ticks, minor:fe5270Minor,
   sets:[[fe5270M60,fe5270M60Err,fe5270M60Mod],[fe5270MN,fe5270MNErr,fe5270MNMod],[fe5270P60,fe5270P60Err,fe5270P60Mod]]},
  {color:'#ffff00', dash:false, y:[2.12,3.70], major:fe5335Ticks, minor:fe5335Minor,
   sets:[[fe5335M60,fe5335M60Err,fe5335M60Mod],[fe5335MN,fe5335MNErr,fe5335MNMod],[fe5335P60,fe5335P60Err,fe5335P60Mod]]},
  {color:'#ffff00', dash:true, y:[1.32,2.30], major:fe5406Ticks, minor:fe5406Minor,
   sets:[[fe5406M60,fe5406M60Err,fe5406M60Mod],[fe5406MN,fe5406MNErr,fe5406MNMod],[fe5406P60,fe5406P60Err,fe5406P60Mod]]},
  {color:'#ff00ff', dash:false, y:[0.50,1.31], major:fe5709Ticks, minor:fe5709Minor,
   sets:[[fe5709M60,fe5709M60Err,fe5709M60Mod],[fe5709MN,fe5709MNErr,fe5709MNMod],[fe5709P60,fe5709P60Err,fe5709P60Mod]]},
  {color:'#ff0000', dash:false, y:[0.62,1.32], major:fe5782Ticks, minor:fe5782Minor,
   sets:[[fe5782M60,fe5782M60Err,fe5782M60Mod],[fe5782MN,fe5782MNErr,fe5782MNMod],[fe5782P60,fe5782P60Err,fe5782P60Mod]]},
  {color:'#0000ff', dash:false, y:[0.70,2.53], major:hbTicks, minor:hbMinor,
   sets:[[hbM60,hbM60Err,hbM60Mod],[hbMN,hbMNErr,hbMNMod],[hbP60,hbP60Err,hbP60Mod]]}
];
const CHI_Y = [-3.05, 2.05];
const CHI = [
  [chiTotM60, chiMgbM60, chiFe5015M60, chiFe5270M60, chiFe5335M60, chiFe5406M60, chiFe5709M60, chiFe5782M60, chiHbM60],
  [chiTotMN, chiMgbMN, chiFe5015MN, chiFe5270MN, chiFe5335MN, chiFe5406MN, chiFe5709MN, chiFe5782MN, chiHbMN],
  [chiTotP60, chiMgbP60, chiFe5015P60, chiFe5270P60, chiFe5335P60, chiFe5406P60, chiFe5709P60, chiFe5782P60, chiHbP60]
];
const chiStyles = [{color:'#000000', dash:false}].concat(PANELS.map(p => ({color:p.color, dash:p.dash})));
const labelColors = PANELS.map(p => p.color).concat(['#000000']);

PANELS.forEach((p, ri) => p.sets.forEach((s, ci) => s.forEach((a, k) => {
  if (a.length !== radii[ci].length) throw new Error('row ' + ri + ' col ' + ci + ' arr ' + k + ' len ' + a.length + ' != ' + radii[ci].length);
})));
CHI.forEach((c, ci) => c.forEach((a, k) => {
  if (a.length !== radii[ci].length) throw new Error('chi col ' + ci + ' arr ' + k + ' len ' + a.length + ' != ' + radii[ci].length);
}));

const fmt = v => String(v).replace('-', '\u2212');
const DASH = [9, 5];

function axis(gi, pos, range, vals, len, showLine, labelOpt) {
  return {
    type: 'value', gridIndex: gi, position: pos, min: range[0], max: range[1],
    splitLine: {show: false}, splitArea: {show: false}, minorTick: {show: false}, minorSplitLine: {show: false},
    axisLine: {show: showLine, onZero: false, lineStyle: {color: '#000', width: 2.5}},
    axisTick: {show: true, inside: true, length: len, customValues: vals, lineStyle: {color: '#000', width: 2}},
    axisLabel: labelOpt ? Object.assign({show: true, color: '#000', fontFamily: FONT, fontSize: 30, formatter: fmt}, labelOpt) : {show: false},
    silent: true
  };
}

function renderErr(params, api) {
  const x = api.value(0), y = api.value(1), e = api.value(2);
  const c = api.coord([x, y]);
  const t = api.coord([x, y + e]);
  const b = api.coord([x, y - e]);
  const st = {stroke: '#000', lineWidth: 2};
  const cw = 5.5, m = 4.2;
  return {type: 'group', children: [
    {type: 'line', shape: {x1: c[0], y1: t[1], x2: c[0], y2: b[1]}, style: st},
    {type: 'line', shape: {x1: c[0] - cw, y1: t[1], x2: c[0] + cw, y2: t[1]}, style: st},
    {type: 'line', shape: {x1: c[0] - cw, y1: b[1], x2: c[0] + cw, y2: b[1]}, style: st},
    {type: 'line', shape: {x1: c[0] - m, y1: c[1] - m, x2: c[0] + m, y2: c[1] + m}, style: st},
    {type: 'line', shape: {x1: c[0] - m, y1: c[1] + m, x2: c[0] + m, y2: c[1] - m}, style: st}
  ]};
}

const grids = [], xAxes = [], yAxes = [], series = [];
const vMarks = reLines.map(v => ({xAxis: v}));

for (let row = 0; row < 9; row++) {
  const isChi = row === 8;
  const yRange = isChi ? CHI_Y : PANELS[row].y;
  const yMaj = isChi ? chiTicks : PANELS[row].major;
  const yMin = isChi ? chiMinor : PANELS[row].minor;
  for (let col = 0; col < 3; col++) {
    const gi = grids.length;
    grids.push({left: colLeft[col], top: rowTop0 + row * rowH, width: colWidth[col], height: rowH,
                containLabel: false, outerBoundsMode: 'none'});
    const xi = xAxes.length, yi = yAxes.length;
    xAxes.push(axis(gi, 'bottom', xRange[col], xMajor, 18, true, isChi ? {customValues: xMajor, margin: 17} : null));
    xAxes.push(axis(gi, 'bottom', xRange[col], xMinor, 10, false, null));
    xAxes.push(axis(gi, 'top', xRange[col], xMajor, 18, true, null));
    xAxes.push(axis(gi, 'top', xRange[col], xMinor, 10, false, null));
    yAxes.push(axis(gi, 'left', yRange, yMaj, 17, true, col === 0 ? {customValues: yMaj, margin: 14} : null));
    yAxes.push(axis(gi, 'left', yRange, yMin, 10, false, null));
    yAxes.push(axis(gi, 'right', yRange, yMaj, 17, true, null));
    yAxes.push(axis(gi, 'right', yRange, yMin, 10, false, null));
    const r = radii[col];
    if (!isChi) {
      const p = PANELS[row];
      const [v, e, m] = p.sets[col];
      series.push({
        type: 'custom', xAxisIndex: xi, yAxisIndex: yi, clip: true, z: 2, silent: true,
        data: r.map((x, i) => [x, v[i], e[i]]), renderItem: renderErr
      });
      series.push({
        type: 'line', xAxisIndex: xi, yAxisIndex: yi, clip: true, z: 3, silent: true,
        symbol: 'none', showSymbol: false,
        data: r.map((x, i) => [x, m[i]]),
        lineStyle: {color: p.color, width: 2, type: p.dash ? DASH : 'solid'},
        markLine: {silent: true, symbol: 'none', animation: false, label: {show: false},
                   lineStyle: {color: '#000', width: 1.5, type: [2, 4]}, data: vMarks}
      });
    } else {
      CHI[col].forEach((arr, k) => {
        const st = chiStyles[k];
        const s = {
          type: 'line', xAxisIndex: xi, yAxisIndex: yi, clip: true, z: 3 + k, silent: true,
          symbol: 'none', showSymbol: false,
          data: r.map((x, i) => [x, arr[i]]),
          lineStyle: {color: st.color, width: 2, type: st.dash ? DASH : 'solid'}
        };
        if (k === 0) {
          s.markLine = {silent: true, symbol: 'none', animation: false, label: {show: false},
            lineStyle: {color: '#000', width: 1.5, type: [2, 4]},
            data: vMarks.concat(chiRef.map(v => ({yAxis: v, lineStyle: {color: '#000', width: 2, type: [12, 7]}})))};
        }
        series.push(s);
      });
    }
  }
}

const graphic = [];
const titleX = [293, 607, 918];
colNames.forEach((t, i) => graphic.push({type: 'text', x: titleX[i], y: 14, silent: true,
  style: {text: t, fill: '#000', font: '30px "DejaVu Serif"', align: 'center', verticalAlign: 'middle', textAlign: 'center', textVerticalAlign: 'middle'}}));
const nameX = [281, 597, 915];
nameX.forEach(x => graphic.push({type: 'text', x: x, y: 1386, silent: true,
  style: {text: 'r [arcsec]', fill: '#000', font: '35px "DejaVu Serif"', align: 'center', verticalAlign: 'middle', textAlign: 'center', textVerticalAlign: 'middle'}}));
rowLabels.forEach((t, i) => graphic.push({type: 'text', x: 25, y: rowTop0 + i * rowH + rowH / 2, rotation: Math.PI / 2, silent: true,
  style: {text: t, fill: labelColors[i], font: '31px "DejaVu Serif"', align: 'center', verticalAlign: 'middle', textAlign: 'center', textVerticalAlign: 'middle'}}));

const chart = echarts.init(document.getElementById('c'), null, {renderer: 'canvas', width: 1070, height: 1410});
chart.setOption({
  backgroundColor: '#ffffff',
  animation: false,
  grid: grids, xAxis: xAxes, yAxis: yAxes, series: series, graphic: graphic
});
</script></body></html>
